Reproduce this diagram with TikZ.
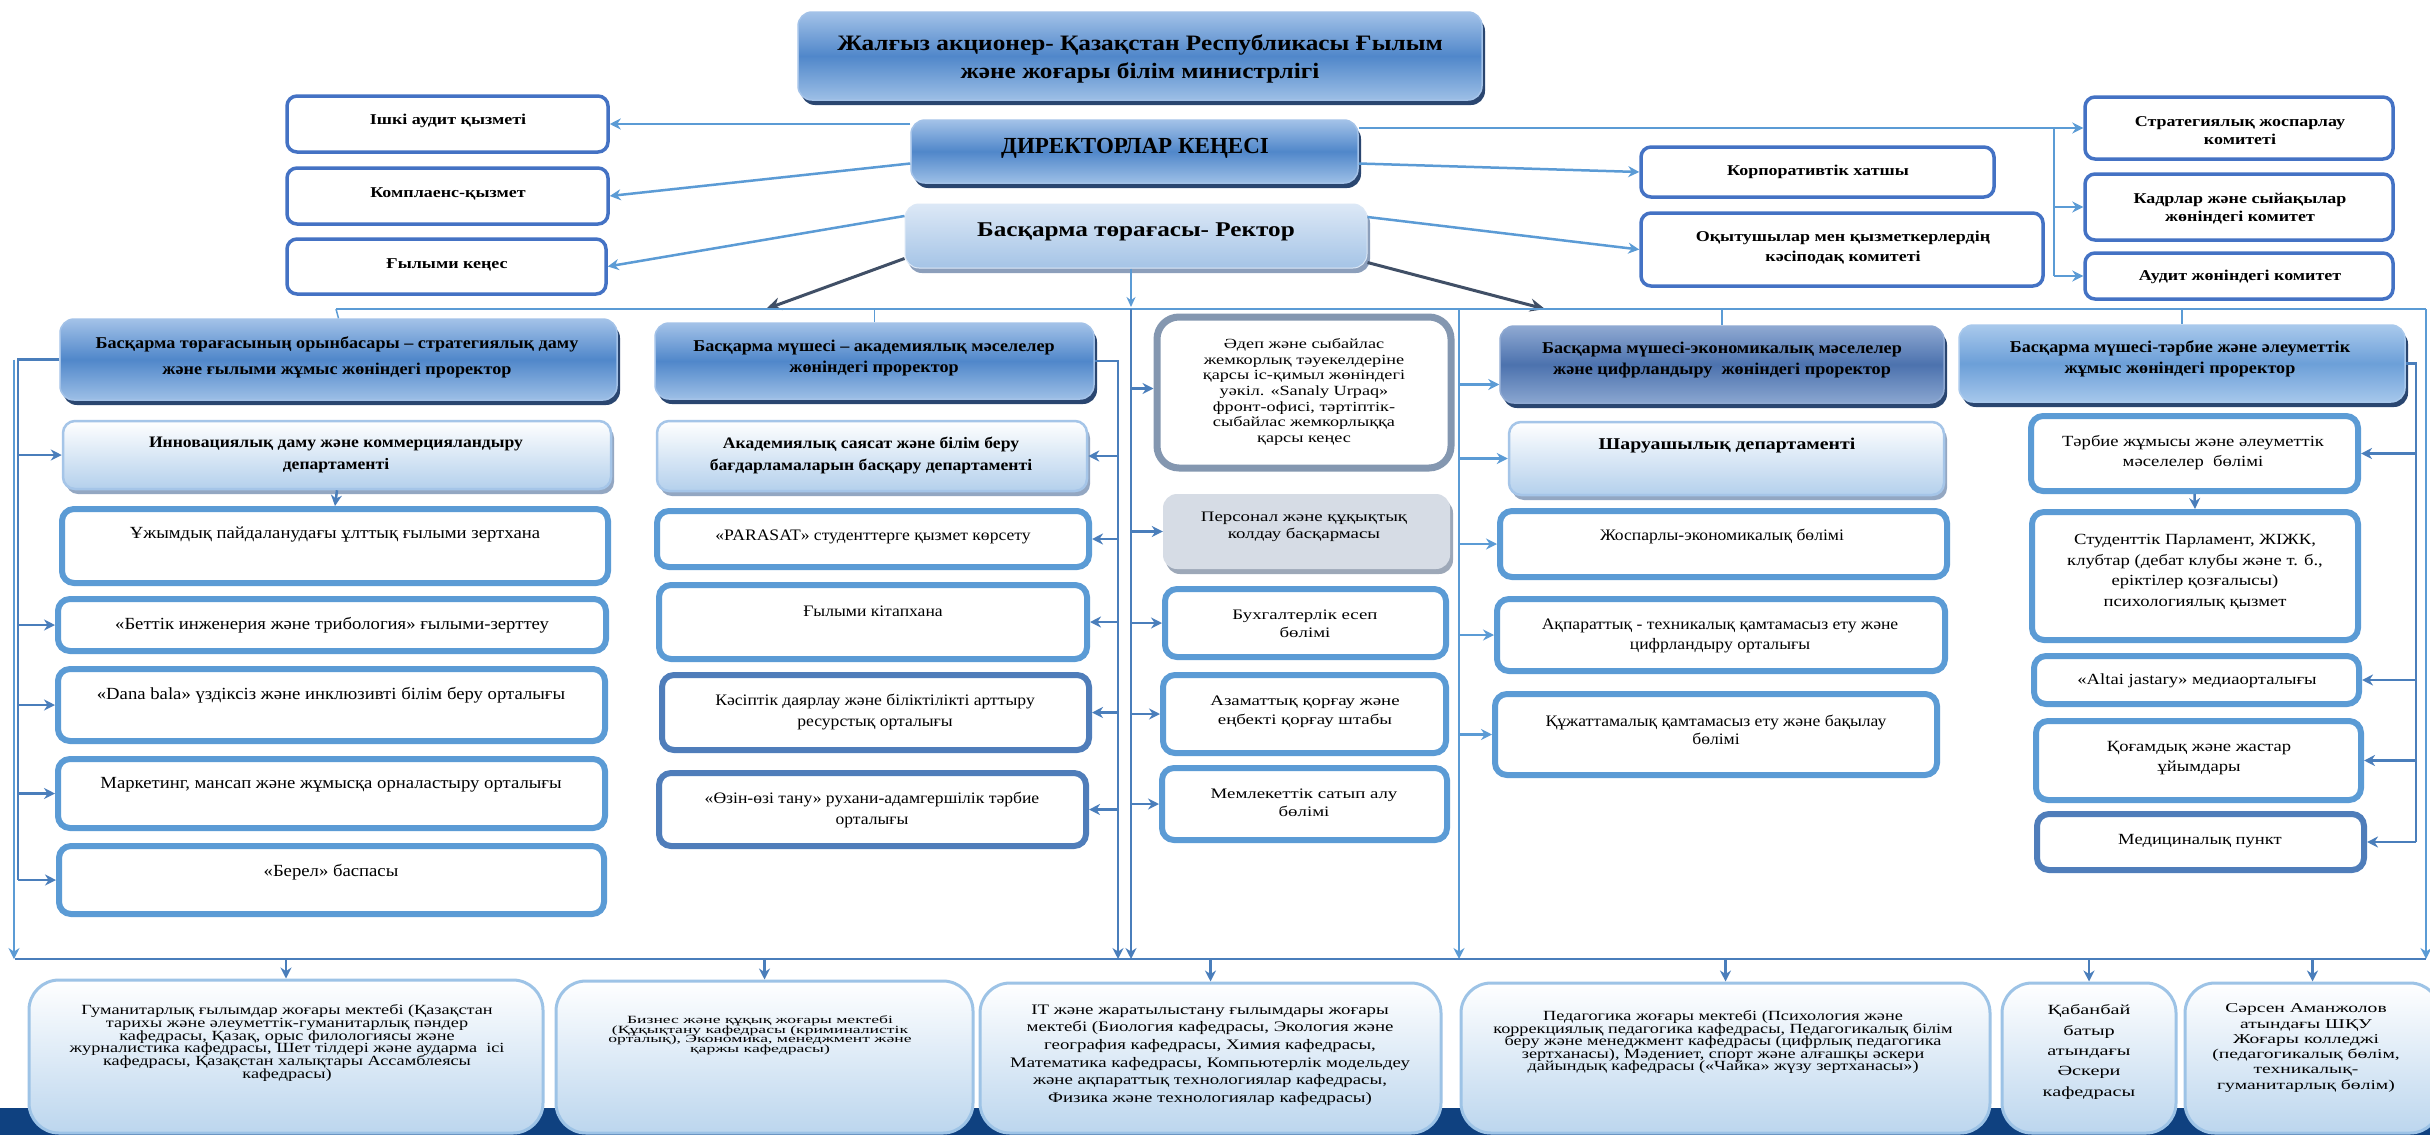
\documentclass[tikz,border=0pt]{standalone}
\usepackage{fontspec}
\setmainfont{Liberation Serif}
\newfontfamily\fsb[FakeStretch=1.1]{Liberation Serif}
\newfontfamily\fsbb[FakeStretch=1.15]{Liberation Serif}
\newfontfamily\fsc[FakeStretch=1.2]{Liberation Serif}
\newfontfamily\fsd[FakeStretch=1.3]{Liberation Serif}
\newfontfamily\fse[FakeStretch=1.45]{Liberation Serif}
\newfontfamily\fsf[FakeStretch=1.6]{Liberation Serif}
\usetikzlibrary{arrows.meta,shadows,calc}
\definecolor{lb}{HTML}{5B9BD5}
\definecolor{mb}{HTML}{4A7EBB}
\definecolor{darkarr}{HTML}{404F66}
\definecolor{sbord}{HTML}{4472C4}
\definecolor{dbord}{HTML}{4F7DBA}
\definecolor{gbord}{HTML}{8497B0}
\definecolor{navy}{HTML}{0F4180}
\definecolor{hdtop}{HTML}{A3C2E8}
\definecolor{hdmid}{HTML}{5087CA}
\definecolor{hdbot}{HTML}{9DBFE6}
\definecolor{hshad}{HTML}{2A4670}
\definecolor{lshad}{HTML}{93A7C2}
\definecolor{HdBtop}{HTML}{8FA9D2}
\definecolor{HdBmid}{HTML}{4C72AE}
\definecolor{HdBbot}{HTML}{8AA6D0}
\definecolor{HdCtop}{HTML}{A9C9EC}
\definecolor{HdCmid}{HTML}{6C9FD8}
\definecolor{HdCbot}{HTML}{A6C7EB}
\definecolor{RecA}{HTML}{DCE8F6}
\definecolor{RecB}{HTML}{A5C4E6}
\definecolor{RecS}{HTML}{8C9FBB}
\definecolor{LgB}{HTML}{B4D0EC}
\definecolor{LgD}{HTML}{A5C5E8}
\definecolor{PerF}{HTML}{D6DCE5}
\definecolor{PerS}{HTML}{9DA8B8}
\definecolor{BotB}{HTML}{BCD6EE}
\definecolor{BotD}{HTML}{9DC3E6}
\tikzset{
  hdr/.style={rounded corners=14pt,top color=hdtop,bottom color=hdbot,middle color=hdmid,draw=hdtop,line width=1.5pt,inner sep=0pt,
    drop shadow={shadow xshift=3pt,shadow yshift=-5pt,fill=hshad,opacity=1}},
  hdrb/.style={rounded corners=14pt,top color=HdBtop,bottom color=HdBbot,middle color=HdBmid,draw=HdBtop,line width=1.5pt,inner sep=0pt,
    drop shadow={shadow xshift=3pt,shadow yshift=-5pt,fill=hshad,opacity=1}},
  hdrc/.style={rounded corners=14pt,top color=HdCtop,bottom color=HdCbot,middle color=HdCmid,draw=HdCtop,line width=1.5pt,inner sep=0pt,
    drop shadow={shadow xshift=3pt,shadow yshift=-5pt,fill=hshad,opacity=1}},
  rectbox/.style={rounded corners=14pt,top color=RecA,bottom color=RecB,draw=RecA,line width=1pt,inner sep=0pt,
    drop shadow={shadow xshift=3pt,shadow yshift=-5pt,fill=RecS,opacity=1}},
  lgt/.style={rounded corners=12pt,top color=white,bottom color=LgB,draw=LgD,line width=2.5pt,inner sep=0pt,
    drop shadow={shadow xshift=3pt,shadow yshift=-5pt,fill=lshad,opacity=1}},
  sbox/.style={rounded corners=10pt,fill=white,draw=sbord,line width=3.5pt,inner sep=0pt},
  obox/.style={rounded corners=12pt,fill=white,draw=lb,line width=6pt,inner sep=0pt},
  dbox/.style={rounded corners=12pt,fill=white,draw=dbord,line width=6pt,inner sep=0pt},
  gbox/.style={rounded corners=22pt,fill=white,draw=gbord,line width=7pt,inner sep=0pt},
  pbox/.style={rounded corners=14pt,fill=PerF,inner sep=0pt,
    drop shadow={shadow xshift=3pt,shadow yshift=-5pt,fill=PerS,opacity=1}},
  bbox/.style={rounded corners=30pt,top color=white,bottom color=BotB,draw=BotD,line width=3pt,inner sep=0pt},
  tx/.style={align=center,inner sep=0pt,text=black},
  arr/.style={-{Stealth[length=11pt,width=11pt]}},
  clb/.style={draw=lb,line width=2.5pt},
  cmb/.style={draw=mb,line width=2.5pt},
  ctn/.style={draw=lb,line width=1.5pt},
  cdk/.style={draw=darkarr,line width=3pt,-{Stealth[length=15pt,width=13pt]}},
}
\newcommand\bx[6]{\node[#1,minimum width={(#4)-(#2)},minimum height={(#5)-(#3)}] (#6) at ({((#2)+(#4))/2},{((#3)+(#5))/2}) {};}
\begin{document}
\begin{tikzpicture}[x=1pt,y=-1pt]
\fill[white] (0,0) rectangle (2430,1135);
\useasboundingbox (0,0) rectangle (2430,1135);
\fill[navy] (0,1108) rectangle (2430,1135);
% ---------- top ----------
\bx{hdr}{798}{12}{1482}{100}{top}
\node[tx,font={\fsbb\bfseries\fontsize{22}{28}\selectfont}] (top-t) at (1140,59) {Жалғыз акционер- Қазақстан Республикасы Ғылым\\және жоғары білім министрлігі};
\bx{hdr}{911}{120}{1358}{183}{dk}
\node[tx,font={\bfseries\fontsize{23}{28}\selectfont}] (dk-t) at (1135,148) {ДИРЕКТОРЛАР КЕҢЕСІ};
\bx{rectbox}{905}{204}{1367}{268}{r}
\node[tx,font={\fsc\bfseries\fontsize{21}{26}\selectfont}] (r-t) at (1136,232) {Басқарма төрағасы- Ректор};
% left small
\bx{sbox}{287}{96}{608}{152}{l1}
\node[tx,font={\fsc\bfseries\fontsize{15}{18.5}\selectfont}] (l1-t) at (448,121) {Ішкі аудит қызметі};
\bx{sbox}{287}{168}{608}{224}{l2}
\node[tx,font={\fsc\bfseries\fontsize{15}{18.5}\selectfont}] (l2-t) at (448,194) {Комплаенс-қызмет};
\bx{sbox}{287}{239}{606}{294}{l3}
\node[tx,font={\fsc\bfseries\fontsize{15}{18.5}\selectfont}] (l3-t) at (447,265) {Ғылыми кеңес};
% right small
\bx{sbox}{1641}{147}{1994}{197}{c1}
\node[tx,font={\fsc\bfseries\fontsize{15}{18.5}\selectfont}] (c1-t) at (1818,172) {Корпоративтік хатшы};
\bx{sbox}{1641}{213}{2043}{286}{c2}
\node[tx,font={\fsc\bfseries\fontsize{15}{20}\selectfont}] (c2-t) at (1843,248) {Оқытушылар мен қызметкерлердің\\кәсіподақ комитеті};
\bx{sbox}{2085}{97}{2393}{159}{s1}
\node[tx,font={\fsc\bfseries\fontsize{15}{18}\selectfont}] (s1-t) at (2240,131) {Стратегиялық жоспарлау\\комитеті};
\bx{sbox}{2085}{174}{2393}{240}{s2}
\node[tx,font={\fsc\bfseries\fontsize{15}{18}\selectfont}] (s2-t) at (2240,209) {Кадрлар және сыйақылар\\жөніндегі комитет};
\bx{sbox}{2085}{253}{2393}{299}{s3}
\node[tx,font={\fsc\bfseries\fontsize{15}{18}\selectfont}] (s3-t) at (2240,277) {Аудит жөніндегі комитет};
% ---------- headers ----------
\bx{hdr}{60}{319}{617}{400}{h1}
\node[tx,font={\fsb\bfseries\fontsize{16.5}{26}\selectfont}] (h1-t) at (337,357) {Басқарма төрағасының орынбасары – стратегиялық даму\\және ғылыми жұмыс жөніндегі проректор};
\bx{hdr}{655}{323}{1094}{399}{h2}
\node[tx,font={\fsb\bfseries\fontsize{16.5}{21}\selectfont}] (h2-t) at (874,358) {Басқарма мүшесі – академиялық мәселелер\\жөніндегі проректор};
\bx{hdrb}{1500}{326}{1944}{403}{h4}
\node[tx,font={\fsb\bfseries\fontsize{16.5}{21}\selectfont}] (h4-t) at (1722,360) {Басқарма мүшесі-экономикалық мәселелер\\және цифрландыру\ \ жөніндегі проректор};
\bx{hdrc}{1959}{325}{2405}{402}{h5}
\node[tx,font={\fsb\bfseries\fontsize{16.5}{21}\selectfont}] (h5-t) at (2180,359) {Басқарма мүшесі-тәрбие және әлеуметтік\\жұмыс жөніндегі проректор};
% ---------- column 1 ----------
\bx{lgt}{63}{421}{611}{489}{inn}
\node[tx,font={\fsb\bfseries\fontsize{16}{22}\selectfont}] (inn-t) at (336,455) {Инновациялық даму және коммерцияландыру\\департаменті};
\bx{obox}{62}{509}{608}{583}{uzh}
\node[tx,font={\fsb\fontsize{17}{20}\selectfont}] (uzh-t) at (335,535) {Ұжымдық пайдаланудағы ұлттық ғылыми зертхана};
\bx{obox}{58}{599}{606}{651}{bet}
\node[tx,font={\fsb\fontsize{17}{20}\selectfont}] (bet-t) at (332,625) {«Беттік инженерия және трибология» ғылыми-зерттеу};
\bx{obox}{58}{669}{605}{741}{dana}
\node[tx,font={\fsb\fontsize{17}{20}\selectfont}] (dana-t) at (331,695) {«Dana bala» үздіксіз және инклюзивті білім беру орталығы};
\bx{obox}{58}{759}{605}{828}{mark}
\node[tx,font={\fsb\fontsize{17}{20}\selectfont}] (mark-t) at (331,785) {Маркетинг, мансап және жұмысқа орналастыру орталығы};
\bx{obox}{59}{846}{604}{914}{ber}
\node[tx,font={\fsb\fontsize{17}{20}\selectfont}] (ber-t) at (331,872) {«Берел» баспасы};
% ---------- column 2 ----------
\bx{lgt}{657}{421}{1087}{491}{aks}
\node[tx,font={\fsb\bfseries\fontsize{16}{22}\selectfont}] (aks-t) at (871,455) {Академиялық саясат және білім беру\\бағдарламаларын басқару департаменті};
\bx{obox}{657}{511}{1089}{567}{par}
\node[tx,font={\fsb\fontsize{16}{20.5}\selectfont}] (par-t) at (873,537) {«PARASAT» студенттерге қызмет көрсету};
\bx{obox}{659}{585}{1087}{659}{kit}
\node[tx,font={\fsb\fontsize{16}{20.5}\selectfont}] (kit-t) at (873,611) {Ғылыми кітапхана};
\bx{dbox}{662}{675}{1089}{750}{kas}
\node[tx,font={\fsb\fontsize{16}{20.5}\selectfont}] (kas-t) at (875,712) {Кәсіптік даярлау және біліктілікті арттыру\\ресурстық орталығы};
\bx{dbox}{659}{773}{1086}{846}{ozin}
\node[tx,font={\fsb\fontsize{16}{20.5}\selectfont}] (ozin-t) at (872,810) {«Өзін-өзі тану» рухани-адамгершілік тәрбие\\орталығы};
% ---------- column 3 ----------
\bx{gbox}{1157}{317}{1451}{468}{adep}
\node[tx,font={\fsd\fontsize{14}{15.6}\selectfont}] (adep-t) at (1304,392) {Әдеп және сыбайлас\\жемкорлық тәуекелдеріне\\қарсы іс-қимыл жөніндегі\\уәкіл. «Sanaly Urpaq»\\фронт-офисі, тәртіптік-\\сыбайлас жемкорлыққа\\қарсы кеңес};
\bx{pbox}{1163}{494}{1450}{569}{per}
\node[tx,font={\fsd\fontsize{14.5}{17.5}\selectfont}] (per-t) at (1304,527) {Персонал және құқықтық\\колдау басқармасы};
\bx{obox}{1165}{589}{1446}{657}{buh}
\node[tx,font={\fsd\fontsize{14.5}{17.5}\selectfont}] (buh-t) at (1305,624) {Бухгалтерлік есеп\\бөлімі};
\bx{obox}{1163}{675}{1446}{753}{azam}
\node[tx,font={\fsd\fontsize{14.5}{19.5}\selectfont}] (azam-t) at (1305,712) {Азаматтық қорғау және\\еңбекті қорғау штабы};
\bx{obox}{1162}{768}{1447}{840}{mem}
\node[tx,font={\fsd\fontsize{14.5}{17.5}\selectfont}] (mem-t) at (1304,803) {Мемлекеттік сатып алу\\бөлімі};
% ---------- column 4 ----------
\bx{lgt}{1509}{422}{1944}{495}{shar}
\node[tx,font={\fsc\bfseries\fontsize{16.5}{22}\selectfont}] (shar-t) at (1727,446) {Шаруашылық департаменті};
\bx{obox}{1500}{511}{1947}{577}{josp}
\node[tx,font={\fsb\fontsize{16}{20.5}\selectfont}] (josp-t) at (1722,536) {Жоспарлы-экономикалық бөлімі};
\bx{obox}{1497}{599}{1945}{671}{akp}
\node[tx,font={\fsb\fontsize{16}{20.5}\selectfont}] (akp-t) at (1720,636) {Ақпараттық - техникалық қамтамасыз ету және\\цифрландыру орталығы};
\bx{obox}{1495}{694}{1937}{775}{kuzh}
\node[tx,font={\fsb\fontsize{16}{18.5}\selectfont}] (kuzh-t) at (1716,730) {Құжаттамалық қамтамасыз ету және бақылау\\бөлімі};
% ---------- column 5 ----------
\bx{obox}{2031}{416}{2358}{491}{tarb}
\node[tx,font={\fsc\fontsize{15.5}{20}\selectfont}] (tarb-t) at (2193,453) {Тәрбие жұмысы және әлеуметтік\\мәселелер\ \ бөлімі};
\bx{obox}{2032}{512}{2358}{640}{stud}
\node[tx,font={\fsc\fontsize{15.5}{20.7}\selectfont}] (stud-t) at (2195,572) {Студенттік Парламент, ЖІЖК,\\клубтар (дебат клубы және т. б.,\\еріктілер қозғалысы)\\психологиялық қызмет};
\bx{obox}{2034}{656}{2359}{704}{alt}
\node[tx,font={\fsc\fontsize{15.5}{20}\selectfont}] (alt-t) at (2197,681) {«Altai jastary» медиаорталығы};
\bx{obox}{2036}{721}{2361}{800}{qog}
\node[tx,font={\fsc\fontsize{15.5}{20}\selectfont}] (qog-t) at (2199,758) {Қоғамдық және жастар\\ұйымдары};
\bx{dbox}{2037}{814}{2364}{870}{med}
\node[tx,font={\fsc\fontsize{15.5}{20}\selectfont}] (med-t) at (2200,841) {Медициналық пункт};
% ---------- bottom ----------
\bx{bbox}{29}{980}{543}{1133}{gum}
\node[tx,font={\fsd\fontsize{14}{12.7}\selectfont\lineskiplimit=-100pt}] (gum-t) at (287,1043) {Гуманитарлық ғылымдар жоғары мектебі (Қазақстан\\тарихы және әлеуметтік-гуманитарлық пәндер\\кафедрасы, Қазақ, орыс филологиясы және\\журналистика кафедрасы, Шет тілдері және аударма\ \ ісі\\кафедрасы, Қазақстан халықтары Ассамблеясы\\кафедрасы)};
\bx{bbox}{556}{981}{973}{1133}{biz}
\node[tx,font={\fsf\fontsize{11}{9.5}\selectfont\lineskiplimit=-100pt}] (biz-t) at (760,1035) {Бизнес және құқық жоғары мектебі\\(Құқықтану кафедрасы (криминалистік\\орталық), Экономика, менеджмент және\\қаржы кафедрасы)};
\bx{bbox}{980}{983}{1441}{1133}{it}
\node[tx,font={\fsd\fontsize{14.5}{17.6}\selectfont}] (it-t) at (1210,1055) {IT және жаратылыстану ғылымдары жоғары\\мектебі (Биология кафедрасы, Экология және\\география кафедрасы, Химия кафедрасы,\\Математика кафедрасы, Компьютерлік модельдеу\\және ақпараттық технологиялар кафедрасы,\\Физика және технологиялар кафедрасы)};
\bx{bbox}{1461}{983}{1990}{1133}{ped}
\node[tx,font={\fsd\fontsize{14}{12.5}\selectfont\lineskiplimit=-100pt}] (ped-t) at (1723,1042) {Педагогика жоғары мектебі (Психология және\\коррекциялық педагогика кафедрасы, Педагогикалық білім\\беру және менеджмент кафедрасы (цифрлық педагогика\\зертханасы), Мәдениет, спорт және алғашқы әскери\\дайындық кафедрасы («Чайка» жүзу зертханасы»)};
\bx{bbox}{2002}{983}{2176}{1133}{kab}
\node[tx,font={\fse\fontsize{14}{20.3}\selectfont}] (kab-t) at (2089,1052) {Қабанбай\\батыр\\атындағы\\Әскери\\кафедрасы};
\bx{bbox}{2185}{983}{2440}{1133}{sar}
\node[tx,font={\fse\fontsize{13.5}{15.3}\selectfont}] (sar-t) at (2306,1048) {Сәрсен Аманжолов\\атындағы ШҚУ\\Жоғары колледжі\\(педагогикалық бөлім,\\техникалық-\\гуманитарлық бөлім)};
% ---------- coordinates ----------
\coordinate (tbL) at (336,309);
\coordinate (tbR) at (2426,309);
\coordinate (bbL) at (15,959);
\coordinate (bbR) at (2426,959);
\coordinate (xL) at (18,0);
\coordinate (xL2) at (14,0);
\coordinate (x2) at (1118,0);
\coordinate (xm) at (1131,0);
\coordinate (xr) at (1459,0);
\coordinate (x5) at (2416,0);
\coordinate (xs) at (2054,0);
\coordinate (dL) at (766,309);
\coordinate (dR) at (1545,309);
% ---------- top connectors ----------
\draw[clb,arr] (dk.west |- l1.east) -- (l1.east);
\draw[clb,arr] ([yshift=-12pt]dk.west) -- (l2.east);
\draw[clb,arr] ([yshift=20pt]r.west) -- (l3.east);
\draw[clb,arr] (dk.east |- s1.west) -- (s1.west);
\draw[ctn] (xs |- s1.west) -- (xs |- s3.west);
\draw[clb,arr] (xs |- s2.west) -- (s2.west);
\draw[clb,arr] (xs |- s3.west) -- (s3.west);
\draw[clb,arr] ([yshift=-12pt]dk.east) -- (c1.west);
\draw[clb,arr] ([yshift=19pt]r.east) -- (c2.west);
\draw[cdk] ([yshift=10pt]r.south west) -- (dL);
\draw[cdk] ([yshift=6pt]r.south east) -- (dR);
\draw[ctn,-{Stealth[length=10pt,width=9pt]}] (r.south -| xm) -- ([yshift=2pt]xm |- tbL);
% top bus
\draw[ctn] (tbL) -- (tbR);
\draw[ctn] (tbL) -- (h1.north);
\draw[ctn] (h2.north |- tbL) -- (h2.north);
\draw[ctn] (h4.north |- tbL) -- (h4.north);
\draw[ctn] (h5.north |- tbL) -- (h5.north);
% column 1
\draw[cmb] (h1.west) -- (h1.west -| xL) -- (xL |- ber.west);
\draw[ctn,arr] (h1.west -| xL2) -- (xL2 |- bbL);
\draw[cmb,arr] (xL |- inn.west) -- (inn.west);
\draw[cmb,arr] (xL |- bet.west) -- (bet.west);
\draw[cmb,arr] (xL |- dana.west) -- (dana.west);
\draw[cmb,arr] (xL |- mark.west) -- (mark.west);
\draw[cmb,arr] (xL |- ber.west) -- (ber.west);
\draw[cmb,arr] (inn.south) -- (uzh.north);
% column 2
\draw[cmb,arr] (h2.east) -- (h2.east -| x2) -- (x2 |- bbL);
\draw[cmb,arr] (x2 |- aks.east) -- (aks.east);
\draw[cmb,arr] (x2 |- par.east) -- (par.east);
\draw[cmb,arr] (x2 |- kit.east) -- (kit.east);
\draw[cmb,arr] (x2 |- kas.east) -- (kas.east);
\draw[cmb,arr] (x2 |- ozin.east) -- (ozin.east);
% middle
\draw[cmb,arr] (xm |- tbL) -- (xm |- bbL);
\draw[cmb,arr] ([yshift=4pt]xm |- adep.west) -- ([yshift=4pt]adep.west);
\draw[cmb,arr] (xm |- per.west) -- (per.west);
\draw[cmb,arr] (xm |- buh.west) -- (buh.west);
\draw[cmb,arr] (xm |- azam.west) -- (azam.west);
\draw[cmb,arr] (xm |- mem.west) -- (mem.west);
% right middle
\draw[clb,arr] (xr |- tbL) -- (xr |- bbL);
\draw[clb,arr] ([yshift=-20pt]xr |- h4.west) -- ([yshift=-20pt]h4.west);
\draw[clb,arr] (xr |- shar.west) -- (shar.west);
\draw[clb,arr] (xr |- josp.west) -- (josp.west);
\draw[clb,arr] (xr |- akp.west) -- (akp.west);
\draw[clb,arr] (xr |- kuzh.west) -- (kuzh.west);
% column 5
\draw[cmb] (h5.east) -- (h5.east -| x5) -- (x5 |- med.east);
\draw[cmb,arr] (x5 |- tarb.east) -- (tarb.east);
\draw[cmb,arr] (x5 |- alt.east) -- (alt.east);
\draw[cmb,arr] (x5 |- qog.east) -- (qog.east);
\draw[cmb,arr] (x5 |- med.east) -- (med.east);
\draw[cmb,arr] (tarb.south) -- (stud.north);
% right edge
\draw[ctn,arr] (tbR) -- (bbR);
% bottom bus
\draw[cmb] (bbL) -- (bbR);
\draw[cmb,arr] (gum.north |- bbL) -- (gum.north);
\draw[cmb,arr] (biz.north |- bbL) -- (biz.north);
\draw[cmb,arr] (it.north |- bbL) -- (it.north);
\draw[cmb,arr] (ped.north |- bbL) -- (ped.north);
\draw[cmb,arr] (kab.north |- bbL) -- (kab.north);
\draw[cmb,arr] (sar.north |- bbL) -- (sar.north);
\end{tikzpicture}
\end{document}
